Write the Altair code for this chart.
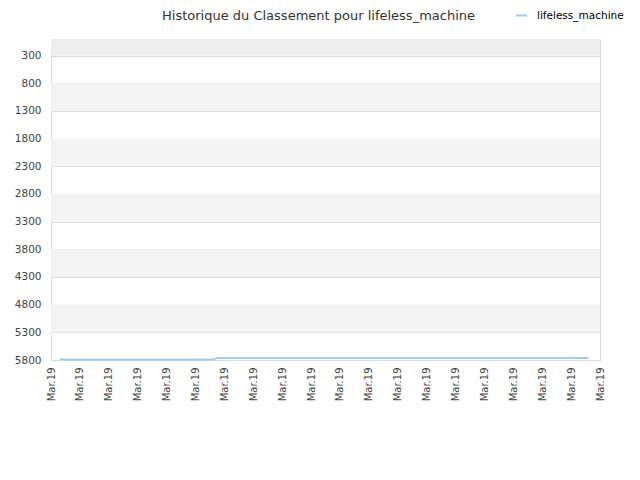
import altair as alt
import pandas as pd

# --- data ---
x_ticks = list(range(0, 20))
x_tick_label = "Mar.19"
y_ticks = [300, 800, 1300, 1800, 2300, 2800, 3300, 3800, 4300, 4800, 5300, 5800]
band_start = [0, 800, 1800, 2800, 3800, 4800]
band_end = [300, 1300, 2300, 3300, 4300, 5300]
band_fill = ["#eeeeee", "#f4f4f4", "#f4f4f4", "#f4f4f4", "#f4f4f4", "#f4f4f4"]

series_name = "lifeless_machine"
pos = [0.3, 1, 2, 3, 4, 5, 5.6, 5.75, 6, 7, 8, 9, 10, 11, 12, 13, 14, 15, 16, 17, 18, 18.6]
rank = [5790, 5790, 5790, 5790, 5790, 5790, 5790, 5765, 5765, 5765, 5765, 5765, 5765,
        5765, 5765, 5765, 5765, 5765, 5765, 5765, 5765, 5765]

bands = pd.DataFrame({"y": band_start, "y2": band_end, "fill": band_fill})
line_df = pd.DataFrame({"x": pos, "rank": rank, "series": [series_name] * len(pos)})

FONT = "DejaVu Sans"

yscale = alt.Scale(domain=[0, 5800], reverse=True, nice=False, zero=False)
xscale = alt.Scale(domain=[0, 19], nice=False, zero=False)

y_axis = alt.Axis(
    values=y_ticks, format="d", labelOverlap=False, title=None, grid=True,
    gridColor="#dddddd", domain=False, ticks=False, labelPadding=10,
    labelFontSize=10.5, labelColor="#444444", labelFont=FONT)

band_layer = alt.Chart(bands).mark_rect(opacity=1).encode(
    x=alt.value(0),
    x2=alt.value(549),
    y=alt.Y("y:Q", scale=yscale, axis=y_axis),
    y2="y2:Q",
    fill=alt.Fill("fill:N", scale=None),
)

line_layer = alt.Chart(line_df).mark_line(strokeWidth=2, interpolate="linear").encode(
    x=alt.X("x:Q", scale=xscale, axis=alt.Axis(
        values=x_ticks, labelExpr=f"'{x_tick_label}'", labelAngle=-90, title=None,
        labelOverlap=False, grid=False, domain=False, ticks=False,
        labelPadding=7, labelFontSize=10, labelColor="#444444", labelFont=FONT)),
    y=alt.Y("rank:Q", scale=yscale, axis=y_axis),
    color=alt.Color("series:N", scale=alt.Scale(domain=[series_name], range=["#9fcbf0"]),
                    legend=alt.Legend(title=None, orient="none", legendX=464, legendY=-30,
                                      symbolType="stroke", symbolStrokeWidth=2, symbolSize=120,
                                      labelFont=FONT, labelFontSize=10.5, labelColor="#000000",
                                      labelOffset=9)),
)

chart = alt.layer(band_layer, line_layer).properties(
    width=549,
    height=321,
    autosize=alt.AutoSizeParams(type="none"),
    padding={"left": 43, "top": 31, "right": 32, "bottom": 112},
    title=alt.TitleParams("Historique du Classement pour lifeless_machine", font=FONT,
                          fontSize=13, fontWeight="normal", color="#333333",
                          anchor="middle", frame="group", dx=-7, offset=-14),
).configure_view(stroke="#dddddd", strokeWidth=1).configure(background="white")

chart.save("out.html", embed_options={"renderer": "svg", "actions": False})
